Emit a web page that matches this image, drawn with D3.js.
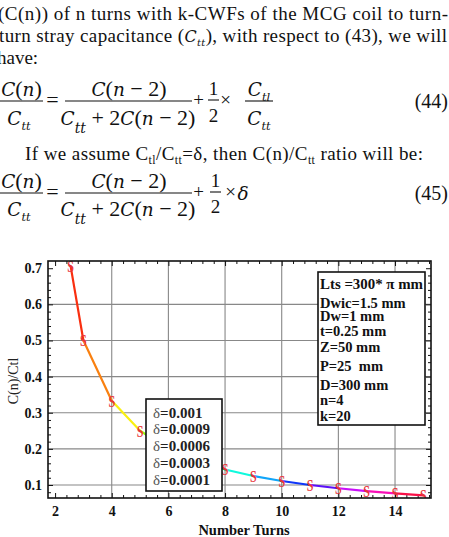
<!DOCTYPE html>
<html><head><meta charset="utf-8">
<script src="https://cdn.jsdelivr.net/npm/d3@7"></script>
<style>
html,body{margin:0;padding:0;background:#fff;overflow:hidden}
svg{display:block}
text{font-family:"Liberation Serif","Times New Roman",Times,serif}
.it{font-family:"DejaVu Serif",serif;font-style:italic}
</style></head>
<body>
<svg id="c" width="449" height="537"></svg>
<script>
// ---- data ----
const nTurns = [2.55, 3, 4, 5, 6, 7, 8, 9, 10, 11, 12, 13, 14, 15];
const ratio  = [0.705, 0.5, 0.333, 0.25, 0.2, 0.167, 0.143, 0.125, 0.111, 0.1, 0.091, 0.083, 0.077, 0.071];
const xTickVals = [2, 4, 6, 8, 10, 12, 14];
const yTickVals = [0.1, 0.2, 0.3, 0.4, 0.5, 0.6, 0.7];
const xGridVals = [4, 6, 8, 10, 12, 14];
const yGridVals = [0.1, 0.2, 0.3, 0.4, 0.5, 0.6];
const deltaLabels = ["0.001", "0.0009", "0.0006", "0.0003", "0.0001"];
const paramLabels = ["Lts =300* \u03C0 mm", "Dwic=1.5 mm", "Dw=1 mm", "t=0.25 mm", "Z=50 mm", "P=25  mm", "D=300 mm", "n=4", "k=20"];
const xTitle = "Number Turns";
const yTitle = "C(n)/Ctl";

const svg = d3.select("#c");
svg.append("rect").attr("width",449).attr("height",537).attr("fill","#fff");

const IT = 0.84; // size factor for the italic face
// ---------- body text ----------
const T = svg.append("g").attr("fill","#111");
function line(y, x0, len, parts, size){
  const t = T.append("text").attr("x",x0).attr("y",y).attr("font-size",size)
    .attr("textLength",len).attr("lengthAdjust","spacing");
  parts.forEach(p=>{
    const s = t.append("tspan").text(p.t);
    let fs = size;
    if(p.sub) fs = size*0.62;
    if(p.i){ s.attr("class","it"); fs *= IT; }
    if(fs!==size) s.attr("font-size",fs);
    if(p.sub) s.attr("dy",4);
    if(p.up) s.attr("dy",-4);
  });
  return t;
}
line(20, -2, 450, [{t:"(C(n)) of n turns with k-CWFs of the MCG coil to turn-"}], 19);
line(42, -1, 448, [{t:"turn stray capacitance ("},{t:"C",i:1},{t:"tt",i:1,sub:1},{t:"), with respect to (43), we will",up:1}], 19);
T.append("text").attr("x",-3).attr("y",64).attr("font-size",19).text("have:");
line(160, 25, 398, [{t:"If we assume C"},{t:"tl",sub:1},{t:"/C",up:1},{t:"tt",sub:1},{t:"=\u03B4, then C(n)/C",up:1},{t:"tt",sub:1},{t:" ratio will be:",up:1}], 19);

// ---------- equations ----------
function ctext(x, y, parts, size, anchor){
  const t = T.append("text").attr("x",x).attr("y",y).attr("font-size",size).attr("text-anchor",anchor||"middle");
  parts.forEach(p=>{
    const s = t.append("tspan").text(p.t);
    let fs = size;
    if(p.sub) fs = size*(p.big?0.75:0.62);
    if(p.i){ s.attr("class","it"); fs *= IT; }
    if(fs!==size) s.attr("font-size",fs);
    if(p.sub) s.attr("dy",p.big?8:5);
    if(p.up) s.attr("dy",p.up);
  });
  return t;
}
function bar(x1,x2,y){ T.append("line").attr("x1",x1).attr("x2",x2).attr("y1",y).attr("y2",y).attr("stroke","#111").attr("stroke-width",1.1); }
function equation(yN, yBar, yD, tailParts, label){
  const F = 22;
  ctext(21.5, yN, [{t:"C",i:1},{t:"("},{t:"n",i:1},{t:")"}], F);
  bar(0, 43, yBar);
  ctext(19, yD, [{t:"C",i:1},{t:"tt",i:1,sub:1}], F);
  ctext(52.5, yBar+6, [{t:"="}], F);
  ctext(129, yN, [{t:"C",i:1},{t:"("},{t:"n",i:1},{t:" \u2212 2)"}], F);
  bar(65, 192, yBar);
  ctext(128, yD, [{t:"C",i:1},{t:"tt",i:1,sub:1,big:1},{t:" + 2",up:-8},{t:"C",i:1},{t:"("},{t:"n",i:1},{t:" \u2212 2)"}], F);
  ctext(198.5, yBar+5, [{t:"+"}], 19);
  tailParts(yN, yBar, yD);
  T.append("text").attr("x",448).attr("y",yBar+7).attr("font-size",20).attr("text-anchor","end").text(label);
}
equation(96, 101, 125, (yN,yBar,yD)=>{
  ctext(213.5, yN-1, [{t:"1"}], 19);
  bar(208, 219, yBar-1);
  ctext(213.5, yD-3, [{t:"2"}], 19);
  ctext(225.5, yBar+5, [{t:"\u00D7"}], 19);
  ctext(259, yN, [{t:"C",i:1},{t:"tl",i:1,sub:1}], 22);
  bar(245, 273, yBar);
  ctext(259, yD, [{t:"C",i:1},{t:"tt",i:1,sub:1}], 22);
}, "(44)");
equation(188, 193, 216, (yN,yBar,yD)=>{
  ctext(215.5, yN-1, [{t:"1"}], 19);
  bar(210, 221, yBar-1);
  ctext(215.5, yD-3, [{t:"2"}], 19);
  ctext(230.5, yBar+5, [{t:"\u00D7"}], 19);
  ctext(243, yBar+7, [{t:"\u03B4",i:1}], 22);
}, "(45)");

// ---------- chart ----------
const L = 48, R = 431, TOP = 261, B = 498;
const x = d3.scaleLinear().domain([1.75, 15.27]).range([L, R]);
const y = d3.scaleLinear().domain([0.064, 0.72]).range([B, TOP]);
const hue = d3.scaleLinear().domain([2.5, 15]).range([0, 360]);

const C = svg.append("g");
C.append("rect").attr("x",L).attr("y",TOP).attr("width",R-L).attr("height",B-TOP).attr("fill","#fff");

// grid
C.append("g").selectAll("line").data(xGridVals).join("line")
  .attr("x1",d=>x(d)).attr("x2",d=>x(d)).attr("y1",TOP).attr("y2",B)
  .attr("stroke","#888").attr("stroke-width",1.1);
C.append("g").selectAll("line").data(yGridVals).join("line")
  .attr("y1",d=>y(d)).attr("y2",d=>y(d)).attr("x1",L).attr("x2",R)
  .attr("stroke","#888").attr("stroke-width",1.1);

// ticks (major + minor, inward on all sides)
const xMinor = d3.range(2, 15.21, 0.4).map(v=>Math.round(v*10)/10).filter(v=>xTickVals.indexOf(v)<0);
const yMinor = d3.range(0.08, 0.72, 0.02).map(v=>Math.round(v*100)/100).filter(v=>Math.round(v*100)%10!==0);
function styleAxis(g){ g.select(".domain").remove(); g.selectAll(".tick line").attr("stroke","#111").attr("stroke-width",1); }
const lab = g => g.selectAll("text").attr("font-family","Liberation Serif").attr("font-weight","bold").attr("font-size",14).attr("fill","#111");

C.append("g").attr("transform",`translate(0,${B})`)
  .call(d3.axisBottom(x).tickValues(xTickVals).tickSize(-5).tickPadding(8).tickFormat(d3.format("d"))).call(styleAxis).call(lab);
C.append("g").attr("transform",`translate(0,${B})`)
  .call(d3.axisBottom(x).tickValues(xMinor).tickSize(-3).tickFormat("")).call(styleAxis);
C.append("g").attr("transform",`translate(0,${TOP})`)
  .call(d3.axisTop(x).tickValues(xTickVals).tickSize(-5).tickFormat("")).call(styleAxis);
C.append("g").attr("transform",`translate(0,${TOP})`)
  .call(d3.axisTop(x).tickValues(xMinor).tickSize(-3).tickFormat("")).call(styleAxis);
C.append("g").attr("transform",`translate(${L},0)`)
  .call(d3.axisLeft(y).tickValues(yTickVals).tickSize(-5).tickPadding(6).tickFormat(d3.format(".1f"))).call(styleAxis).call(lab);
C.append("g").attr("transform",`translate(${L},0)`)
  .call(d3.axisLeft(y).tickValues(yMinor).tickSize(-3).tickFormat("")).call(styleAxis);
C.append("g").attr("transform",`translate(${R},0)`)
  .call(d3.axisRight(y).tickValues(yTickVals).tickSize(-5).tickFormat("")).call(styleAxis);
C.append("g").attr("transform",`translate(${R},0)`)
  .call(d3.axisRight(y).tickValues(yMinor).tickSize(-3).tickFormat("")).call(styleAxis);

// curve segments coloured by hue
svg.append("clipPath").attr("id","pc").append("rect").attr("x",L).attr("y",TOP).attr("width",R-L).attr("height",B-TOP);
const pts = nTurns.map((n,i)=>({n, v:ratio[i]}));
const segs = d3.pairs(pts);
const P = C.append("g").attr("clip-path","url(#pc)");
P.selectAll("line.seg").data(segs).join("line").attr("class","seg")
  .attr("x1",d=>x(d[0].n)).attr("y1",d=>y(d[0].v)).attr("x2",d=>x(d[1].n)).attr("y2",d=>y(d[1].v))
  .attr("stroke",d=>d3.hsl(hue((d[0].n+d[1].n)/2),0.95,0.52).formatHex())
  .attr("stroke-width",2.2).attr("stroke-linecap","round");
P.selectAll("text.mk").data(pts).join("text").attr("class","mk")
  .attr("transform",d=>`translate(${x(d.n)},${y(d.v)}) scale(0.75,1)`)
  .attr("text-anchor","middle").attr("dy","0.36em")
  .attr("font-size",16).attr("font-weight","bold").attr("fill","#e8343a").text("S");

// frame
C.append("rect").attr("x",L).attr("y",TOP).attr("width",R-L).attr("height",B-TOP)
  .attr("fill","none").attr("stroke","#111").attr("stroke-width",1.6);

// delta legend box
const lg = C.append("g");
lg.append("rect").attr("x",146).attr("y",399).attr("width",76).attr("height",92)
  .attr("fill","#fff").attr("stroke","#111").attr("stroke-width",1.6);
const lt = lg.selectAll("text").data(deltaLabels).join("text")
  .attr("x",153).attr("y",(d,i)=>417.5+i*16.8).attr("font-size",15).attr("fill","#222");
lt.append("tspan").attr("fill","#555").text("\u03B4");
lt.append("tspan").attr("font-weight","bold").text(d=>"=" + d);

// parameter box
const pb = C.append("g");
pb.append("rect").attr("x",318).attr("y",272).attr("width",107).attr("height",153)
  .attr("fill","#fff").attr("stroke","#111").attr("stroke-width",1.6);
const pY = [288.5, 307.5, 321, 335.5, 352, 370.5, 390, 405, 421];
pb.selectAll("text").data(paramLabels).join("text")
  .attr("x",320).attr("y",(d,i)=>pY[i]).attr("font-size",14.5).attr("font-weight","bold").attr("fill","#111")
  .attr("textLength",(d,i)=>i===0?103:null).attr("lengthAdjust","spacingAndGlyphs")
  .style("white-space","pre").text(d=>d);

// axis titles
C.append("text").attr("x",244).attr("y",535).attr("text-anchor","middle")
  .attr("font-size",14.5).attr("font-weight","bold").attr("fill","#111").text(xTitle);
C.append("text").attr("transform","translate(18,381) rotate(-90)").attr("text-anchor","middle")
  .attr("font-size",14).attr("fill","#222").text(yTitle);
</script>
</body></html>
